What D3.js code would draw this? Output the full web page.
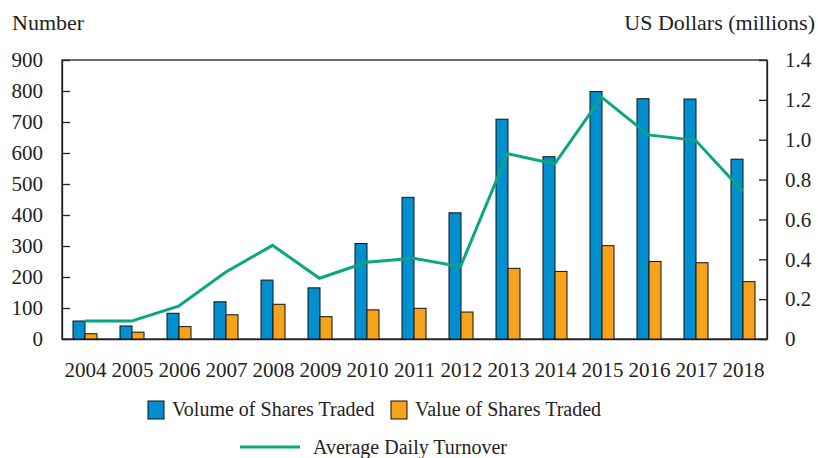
<!DOCTYPE html>
<html>
	<head>
		<style>
		body {
			margin: 0;
			background: #fff;
		}

		svg text {
			font-family: "Liberation Serif", serif;
			font-size: 21px;
			fill: #222;
		}

		.axis path, .axis line {
			stroke: #222;
			stroke-width: 1.3px;
		}

		.bar {
			stroke: #111;
			stroke-width: 1px;
		}

		.legend text {
			font-size: 20px;
		}

		.title {
			font-size: 22px;
		}
		</style>
		<script src="https://d3js.org/d3.v7.min.js"></script>
	</head>
	<body>
		<svg id="chart" width="818" height="458"></svg>

		<script>
		var years = ['2004', '2005', '2006', '2007', '2008', '2009', '2010', '2011', '2012', '2013', '2014', '2015', '2016', '2017', '2018'];
		var volume = [58, 42, 83, 120, 190, 165, 308, 457, 407, 709, 588, 798, 775, 774, 580];
		var value = [17, 22, 40, 78, 112, 72, 94, 99, 87, 228, 218, 301, 250, 246, 185];
		var turnover = [0.09, 0.09, 0.165, 0.335, 0.47, 0.305, 0.385, 0.405, 0.363, 0.93, 0.878, 1.214, 1.024, 0.997, 0.743];
		var leftTicks = [0, 100, 200, 300, 400, 500, 600, 700, 800, 900];
		var rightTicks = [0, 0.2, 0.4, 0.6, 0.8, 1.0, 1.2, 1.4];

		var seriesNames = ['Volume of Shares Traded', 'Value of Shares Traded', 'Average Daily Turnover'];
		var colors = { bar0: '#0090d0', bar1: '#f7a21d', line: '#0aa67f' };

		var svg = d3.select('#chart'),
			plotLeft = 62,
			plotRight = 767,
			plotTop = 60,
			plotBottom = 339;

		var x = d3.scaleBand().domain(years).range([plotLeft, plotRight]).padding(0),
			xInner = d3.scaleBand().domain([0, 1]).range([-12.5, 11.5]),
			yLeft = d3.scaleLinear().domain([0, 900]).range([plotBottom, plotTop]),
			yRight = d3.scaleLinear().domain([0, 1.4]).range([plotBottom, plotTop]);

		// frame
		svg.append('rect')
			.attr('x', plotLeft).attr('y', plotTop)
			.attr('width', plotRight - plotLeft).attr('height', plotBottom - plotTop)
			.attr('fill', 'none').attr('stroke', '#222').attr('stroke-width', 1.3);

		svg.append('g')
			.attr('class', 'axis')
			.attr('transform', 'translate(' + plotLeft + ',0)')
			.call(d3.axisLeft(yLeft).tickValues(leftTicks).tickSizeInner(-8).tickSizeOuter(0).tickPadding(19));

		svg.append('g')
			.attr('class', 'axis')
			.attr('transform', 'translate(' + plotRight + ',0)')
			.call(d3.axisRight(yRight).tickValues(rightTicks).tickSizeInner(-8).tickSizeOuter(0).tickPadding(18)
				.tickFormat(function (d) { return d === 0 ? '0' : d3.format('.1f')(d); }));

		svg.append('g')
			.attr('class', 'axis')
			.attr('transform', 'translate(0,' + plotBottom + ')')
			.call(d3.axisBottom(x).tickSize(0).tickPadding(23));

		svg.selectAll('.axis text').style('font-size', '21px').style('font-family', '"Liberation Serif", serif');

		var groups = svg.append('g').selectAll('g')
			.data(years)
			.enter()
			.append('g')
			.attr('transform', function (d) { return 'translate(' + (x(d) + x.bandwidth() / 2) + ',0)'; });

		groups.append('rect')
			.attr('class', 'bar')
			.attr('x', xInner(0))
			.attr('width', xInner.bandwidth())
			.attr('y', function (d, i) { return yLeft(volume[i]); })
			.attr('height', function (d, i) { return plotBottom - yLeft(volume[i]); })
			.attr('fill', colors.bar0);

		groups.append('rect')
			.attr('class', 'bar')
			.attr('x', xInner(1))
			.attr('width', xInner.bandwidth())
			.attr('y', function (d, i) { return yLeft(value[i]); })
			.attr('height', function (d, i) { return plotBottom - yLeft(value[i]); })
			.attr('fill', colors.bar1);

		var line = d3.line()
			.x(function (d, i) { return x(years[i]) + x.bandwidth() / 2 - 1; })
			.y(function (d) { return yRight(d); });

		svg.append('path')
			.datum(turnover)
			.attr('d', line)
			.attr('fill', 'none')
			.attr('stroke', colors.line)
			.attr('stroke-width', 3);

		// axis titles
		svg.append('text').attr('class', 'title').attr('x', 12).attr('y', 30).text('Number');
		svg.append('text').attr('class', 'title').attr('x', 815).attr('y', 30).attr('text-anchor', 'end').text('US Dollars (millions)');

		// legend
		var legend = svg.append('g').attr('class', 'legend');
		legend.append('rect').attr('x', 148).attr('y', 401).attr('width', 16).attr('height', 18)
			.attr('fill', colors.bar0).attr('stroke', '#111');
		legend.append('text').attr('x', 172).attr('y', 416).text(seriesNames[0]);
		legend.append('rect').attr('x', 391).attr('y', 401).attr('width', 16).attr('height', 18)
			.attr('fill', colors.bar1).attr('stroke', '#111');
		legend.append('text').attr('x', 415).attr('y', 416).text(seriesNames[1]);
		legend.append('line').attr('x1', 240).attr('x2', 300).attr('y1', 447).attr('y2', 447)
			.attr('stroke', colors.line).attr('stroke-width', 3);
		legend.append('text').attr('x', 313).attr('y', 454).text(seriesNames[2]);
		</script>
	</body>
</html>
